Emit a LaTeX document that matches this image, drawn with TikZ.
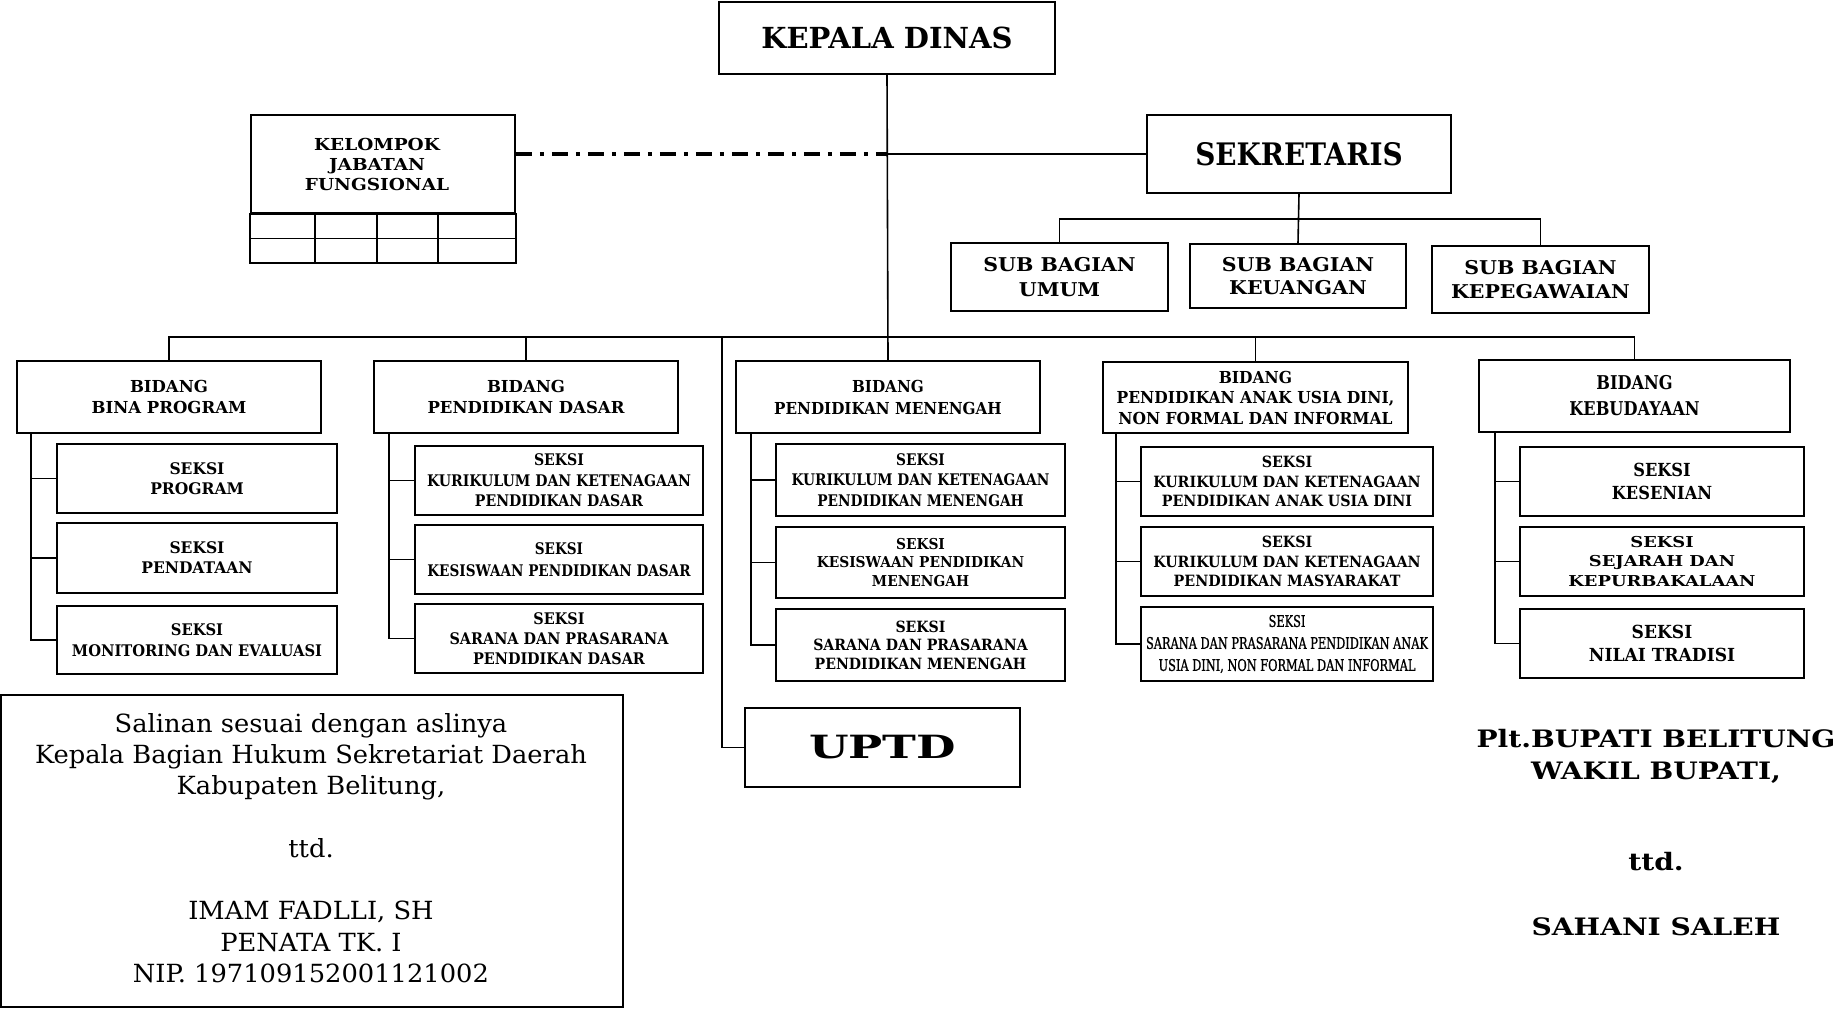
\documentclass[tikz,border=0pt]{standalone}
\usepackage{fontspec}
\setmainfont{DejaVu Serif}
\newcommand\sfam[1]{\fontspec[FakeStretch=#1]{DejaVu Serif}}
\newcommand\nfam{\fontspec[FakeStretch=0.71,FakeBold=1]{DejaVu Serif}}
\usetikzlibrary{calc}
\begin{document}
\begin{tikzpicture}[x=1pt,y=-1pt]
\tikzset{
  box/.style={draw, line width=1.8pt, inner sep=0pt, align=center},
  conn/.style={line width=1.6pt},
  bidang/.style={box, minimum width=304pt, minimum height=72pt},
}
\useasboundingbox (0,0) rectangle (1836,1009);
\fill[white] (0,0) rectangle (1836,1009);

% top
\node[box, minimum width=336pt, minimum height=72pt, font=\sfam{1.0}\bfseries\fontsize{29}{34}\selectfont] (kd) at (887,38) {KEPALA DINAS};
\node[box, minimum width=304pt, minimum height=78pt, font=\sfam{0.9}\bfseries\fontsize{31}{36}\selectfont] (sek) at (1299,154) {SEKRETARIS};
\node[box, minimum width=264pt, minimum height=98pt] (kjf) at (383,164) {};
\node[align=center, inner sep=0pt, font=\sfam{1.12}\bfseries\fontsize{16.5}{20}\selectfont] (kjft) at (377,164) {KELOMPOK\\JABATAN\\FUNGSIONAL};
% grid under kelompok
\draw[line width=1.8pt] (kjf.south west) rectangle ($(kjf.south east)+(0,49)$);
\draw[line width=1.8pt] ($(kjf.south west)+(0,24.5)$) -- ($(kjf.south east)+(0,24.5)$);
\foreach \gx in {315,377,438} \draw[line width=1.8pt] (\gx,213) -- (\gx,262);

% sub bagian
\node[box, minimum width=217pt, minimum height=68pt, font=\sfam{1.08}\bfseries\fontsize{19}{25}\selectfont] (umum) at (1059.5,277) {SUB BAGIAN\\UMUM};
\node[box, minimum width=216pt, minimum height=64pt, font=\sfam{1.08}\bfseries\fontsize{19}{23}\selectfont] (keu) at (1298,276) {SUB BAGIAN\\KEUANGAN};
\node[box, minimum width=217pt, minimum height=67pt, font=\sfam{1.08}\bfseries\fontsize{19}{24}\selectfont] (kep) at (1540.5,279.5) {SUB BAGIAN\\KEPEGAWAIAN};

% bidang
\node[bidang, font=\sfam{1.0}\bfseries\fontsize{16.5}{20.5}\selectfont] (bp) at (169,397) {BIDANG\\BINA PROGRAM};
\node[bidang, font=\sfam{1.0}\bfseries\fontsize{16.5}{20.5}\selectfont] (pd) at (526,397) {BIDANG\\PENDIDIKAN DASAR};
\node[bidang, font=\sfam{0.92}\bfseries\fontsize{16.5}{22}\selectfont] (pm) at (888,397) {BIDANG\\PENDIDIKAN MENENGAH};
\node[bidang, minimum width=305pt, minimum height=71pt, font=\sfam{0.94}\bfseries\fontsize{16.5}{20.5}\selectfont] (paud) at (1255.5,397.5) {BIDANG\\PENDIDIKAN ANAK USIA DINI,\\NON FORMAL DAN INFORMAL};
\node[bidang, minimum width=311pt, font=\sfam{0.85}\bfseries\fontsize{19}{26}\selectfont] (keb) at (1634.5,396) {BIDANG\\KEBUDAYAAN};

% seksi column 1
\tikzset{c1/.style={box, minimum width=280pt, font=\sfam{0.97}\bfseries\fontsize{16}{20}\selectfont}}
\node[c1, minimum height=69pt] (s11) at (197,478.5) {SEKSI\\PROGRAM};
\node[c1, minimum height=70pt] (s12) at (197,558) {SEKSI\\PENDATAAN};
\node[c1, minimum height=68pt, font=\sfam{0.92}\bfseries\fontsize{16}{21}\selectfont] (s13) at (197,640) {SEKSI\\MONITORING DAN EVALUASI};
% column 2
\tikzset{c2/.style={box, minimum width=288pt, minimum height=69pt, font=\sfam{0.88}\bfseries\fontsize{16}{20.5}\selectfont}}
\node[c2] (s21) at (559,480.5) {SEKSI\\KURIKULUM DAN KETENAGAAN\\PENDIDIKAN DASAR};
\node[c2, font=\sfam{0.85}\bfseries\fontsize{16}{22}\selectfont] (s22) at (559,559.5) {SEKSI\\KESISWAAN PENDIDIKAN DASAR};
\node[c2, font=\sfam{0.9}\bfseries\fontsize{16}{20}\selectfont] (s23) at (559,638.5) {SEKSI\\SARANA DAN PRASARANA\\PENDIDIKAN DASAR};
% column 3
\tikzset{c3/.style={box, minimum width=289pt, minimum height=72pt}}
\node[c3, font=\sfam{0.86}\bfseries\fontsize{16}{20.5}\selectfont] (s31) at (920.5,480) {SEKSI\\KURIKULUM DAN KETENAGAAN\\PENDIDIKAN MENENGAH};
\node[c3, minimum height=71pt, font=\sfam{0.92}\bfseries\fontsize{15}{18.5}\selectfont] (s32) at (920.5,562.5) {SEKSI\\KESISWAAN PENDIDIKAN\\MENENGAH};
\node[c3, font=\sfam{0.91}\bfseries\fontsize{15.5}{18.5}\selectfont] (s33) at (920.5,645) {SEKSI\\SARANA DAN PRASARANA\\PENDIDIKAN MENENGAH};
% column 4
\tikzset{c4/.style={box, minimum width=292pt, minimum height=69pt, font=\sfam{0.92}\bfseries\fontsize{15.5}{19.5}\selectfont}}
\node[c4] (s41) at (1287,481.5) {SEKSI\\KURIKULUM DAN KETENAGAAN\\PENDIDIKAN ANAK USIA DINI};
\node[c4] (s42) at (1287,561.5) {SEKSI\\KURIKULUM DAN KETENAGAAN\\PENDIDIKAN MASYARAKAT};
\node[c4, minimum height=74pt, font=\nfam\fontsize{16}{22}\selectfont] (s43) at (1287,644) {SEKSI\\SARANA DAN PRASARANA PENDIDIKAN ANAK\\USIA DINI, NON FORMAL DAN INFORMAL};
% column 5
\tikzset{c5/.style={box, minimum width=284pt, minimum height=69pt}}
\node[c5, font=\sfam{0.9}\bfseries\fontsize{18}{23}\selectfont] (s51) at (1662,481.5) {SEKSI\\KESENIAN};
\node[c5, font=\sfam{1.19}\bfseries\fontsize{15}{19.5}\selectfont] (s52) at (1662,561.5) {SEKSI\\SEJARAH DAN\\KEPURBAKALAAN};
\node[c5, font=\sfam{0.95}\bfseries\fontsize{18}{23}\selectfont] (s53) at (1662,643.5) {SEKSI\\NILAI TRADISI};

% UPTD
\node[box, minimum width=275pt, minimum height=79pt, font=\sfam{1.42}\bfseries\fontsize{32}{36}\selectfont] (uptd) at (882.5,747.5) {UPTD};

% connectors
\coordinate (busy) at (0,337);
\coordinate (suby) at (0,219);
\coordinate (jn) at (kd.south |- sek.west);
\draw[conn] (kd.south) -- (pm.north);
\draw[line width=3.5pt, dash pattern=on 16pt off 8pt on 4pt off 8pt] (kjf.east |- jn) -- (jn);
\draw[conn] (jn) -- (sek.west);
\draw[conn] (sek.south) -- (keu.north);
\draw[conn] (umum.north) -- (umum.north |- suby) -- (kep.north |- suby) -- (kep.north);
\draw[conn] (bp.north) -- (bp.north |- busy) -- (keb.north |- busy) -- (keb.north);
\draw[conn] (pd.north) -- (pd.north |- busy);
\draw[conn] (paud.north) -- (paud.north |- busy);
\coordinate (ut) at (722,337);
\draw[conn] (ut) |- (uptd.west);

\coordinate (sp1) at ($(bp.south west)+(15,0)$);
\coordinate (sp2) at ($(pd.south west)+(16,0)$);
\coordinate (sp3) at ($(pm.south west)+(16,0)$);
\coordinate (sp4) at ($(paud.south west)+(14,0)$);
\coordinate (sp5) at ($(keb.south west)+(17,0)$);
\foreach \c in {1,...,5}{
  \draw[conn] (sp\c) |- (s\c3.west);
  \draw[conn] (s\c1.west) -- (s\c1.west -| sp\c);
  \draw[conn] (s\c2.west) -- (s\c2.west -| sp\c);
}

% bottom left
\node[box, line width=1.5pt, minimum width=622pt, minimum height=312pt] (sal) at (312,851) {};
\node[align=center, font=\sfam{1.03}\fontsize{25}{31.25}\selectfont] (saltext) at (311,848)
 {Salinan sesuai dengan aslinya\\Kepala Bagian Hukum Sekretariat Daerah\\Kabupaten Belitung,\\[31.25pt]ttd.\\[31.25pt]IMAM FADLLI, SH\\PENATA TK. I\\NIP. 197109152001121002};

% signature
\node[align=center, font=\sfam{1.17}\bfseries\fontsize{24}{32}\selectfont] (sig1) at (1656,756) {Plt.BUPATI BELITUNG\\WAKIL BUPATI,};
\node[font=\sfam{1.17}\bfseries\fontsize{24}{32}\selectfont] (sig2) at (1656,862) {ttd.};
\node[font=\sfam{1.17}\bfseries\fontsize{24}{32}\selectfont] (sig3) at (1656,927) {SAHANI SALEH};
\end{tikzpicture}
\end{document}
